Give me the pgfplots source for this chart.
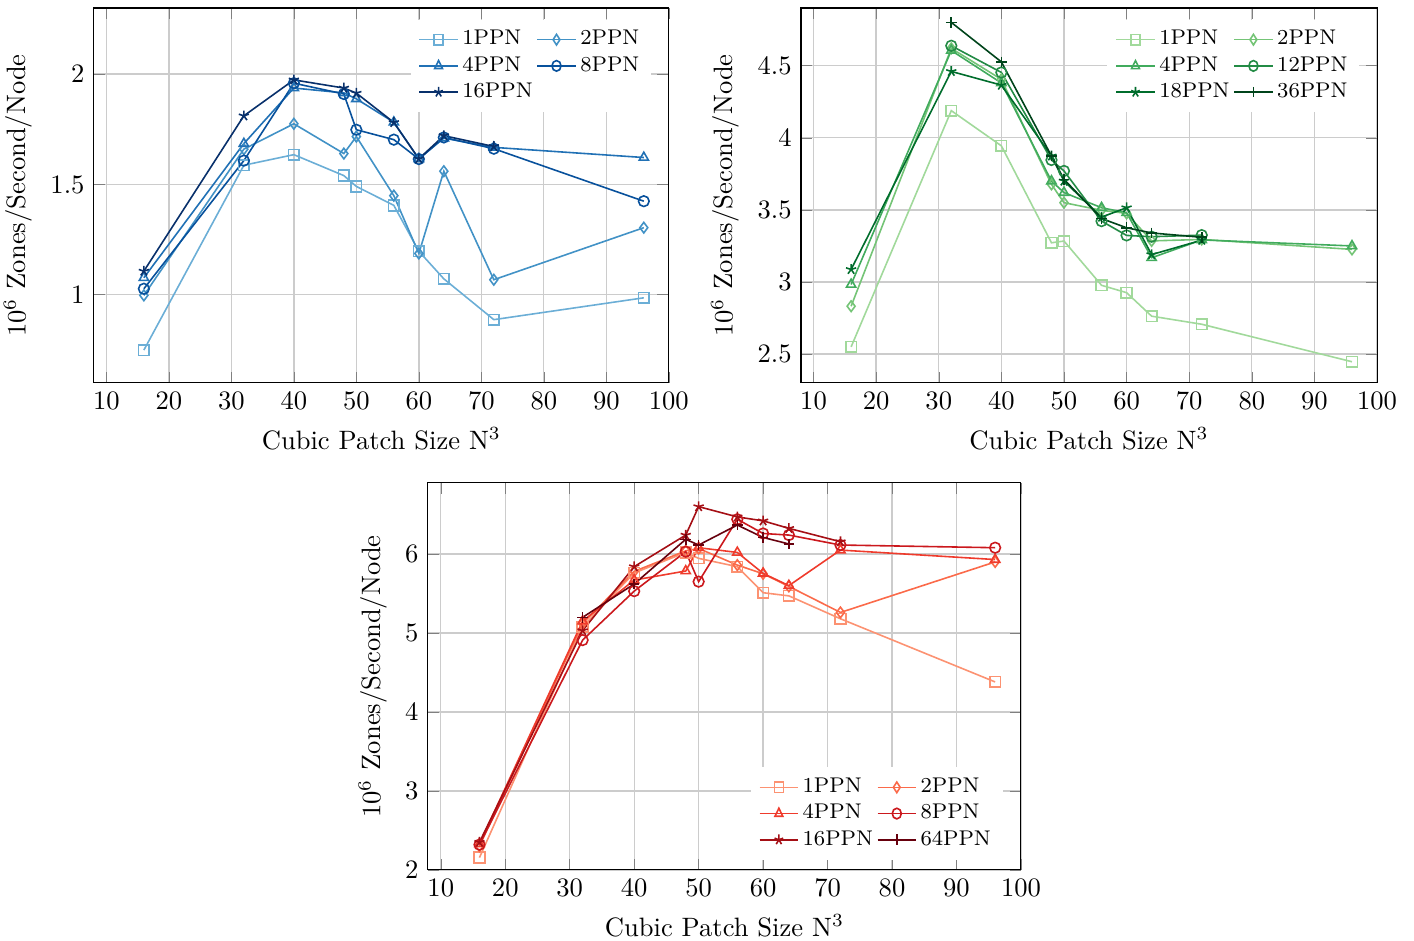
\documentclass[border=0pt]{standalone}
\usepackage{pgfplots}
\pgfplotsset{compat=1.18}
\definecolor{b1}{RGB}{107,174,214}
\definecolor{b2}{RGB}{66,146,198}
\definecolor{b3}{RGB}{33,113,181}
\definecolor{b4}{RGB}{8,81,156}
\definecolor{b5}{RGB}{8,48,107}
\definecolor{g1}{RGB}{161,217,155}
\definecolor{g2}{RGB}{116,196,118}
\definecolor{g3}{RGB}{65,171,93}
\definecolor{g4}{RGB}{35,139,69}
\definecolor{g5}{RGB}{0,109,44}
\definecolor{g6}{RGB}{0,68,27}
\definecolor{r1}{RGB}{252,146,114}
\definecolor{r2}{RGB}{251,106,74}
\definecolor{r3}{RGB}{239,59,44}
\definecolor{r4}{RGB}{203,24,29}
\definecolor{r5}{RGB}{165,15,21}
\definecolor{r6}{RGB}{103,0,13}
\pgfplotsset{
  myax/.style={
    scale only axis,
    xmin=8, xmax=100,
    xtick={10,20,...,100},
    grid=major,
    major grid style={gray!40, line width=0.5pt},
    xlabel={Cubic Patch Size N$^3$},
    ylabel={$10^6$ Zones/Second/Node},
    legend columns=2,
    legend cell align=left,
    legend style={draw=none, fill=white, font=\footnotesize, row sep=-1.1pt,
      nodes={inner xsep=1.4pt},
      /tikz/every even column/.append style={column sep=0pt},
      /tikz/every odd column/.append style={column sep=0pt}},
    legend image post style={xscale=0.85},
    every axis plot/.append style={line width=0.6pt, mark options={solid}},
  }
}
\begin{document}
\begin{tikzpicture}
\path[use as bounding box] (0,0) rectangle (531.7pt,353.8pt);
% ---------- Blues ----------
\begin{axis}[myax, at={(35.3pt,209.8pt)}, anchor=south west,
  width=216.2pt, height=141.0pt,
  ymin=0.6, ymax=2.3, ytick={1,1.5,2},
  legend style={at={(0.97,0.97)}, anchor=north east}]
\addplot[b1, mark=square] coordinates {(16,0.749)(32,1.587)(40,1.635)(48,1.540)(50,1.491)(56,1.405)(60,1.197)(64,1.072)(72,0.887)(96,0.986)};
\addlegendentry{1PPN}
\addplot[b2, mark=diamond] coordinates {(16,0.997)(32,1.660)(40,1.775)(48,1.640)(50,1.717)(56,1.449)(60,1.187)(64,1.560)(72,1.068)(96,1.304)};
\addlegendentry{2PPN}
\addplot[b3, mark=triangle] coordinates {(16,1.077)(32,1.685)(40,1.937)(48,1.915)(50,1.888)(56,1.782)(60,1.616)(64,1.710)(72,1.668)(96,1.622)};
\addlegendentry{4PPN}
\addplot[b4, mark=o] coordinates {(16,1.027)(32,1.608)(40,1.959)(48,1.910)(50,1.748)(56,1.703)(60,1.615)(64,1.713)(72,1.662)(96,1.424)};
\addlegendentry{8PPN}
\addplot[b5, mark=star] coordinates {(16,1.107)(32,1.811)(40,1.974)(48,1.937)(50,1.914)(56,1.781)(60,1.616)(64,1.721)(72,1.672)};
\addlegendentry{16PPN}
\end{axis}
% ---------- Greens ----------
\begin{axis}[myax, at={(301.2pt,209.8pt)}, anchor=south west,
  width=216.6pt, height=141.0pt,
  ymin=2.3, ymax=4.9, ytick={2.5,3,3.5,4,4.5},
  legend style={at={(0.97,0.97)}, anchor=north east}]
\addplot[g1, mark=square] coordinates {(16,2.550)(32,4.188)(40,3.944)(48,3.272)(50,3.284)(56,2.977)(60,2.926)(64,2.763)(72,2.707)(96,2.447)};
\addlegendentry{1PPN}
\addplot[g2, mark=diamond] coordinates {(16,2.832)(32,4.620)(40,4.405)(48,3.677)(50,3.550)(56,3.497)(60,3.476)(64,3.285)(72,3.295)(96,3.226)};
\addlegendentry{2PPN}
\addplot[g3, mark=triangle] coordinates {(16,2.983)(32,4.605)(40,4.380)(48,3.700)(50,3.620)(56,3.515)(60,3.480)(64,3.168)(72,3.292)(96,3.250)};
\addlegendentry{4PPN}
\addplot[g4, mark=o] coordinates {(32,4.638)(40,4.453)(48,3.846)(50,3.770)(56,3.422)(60,3.323)(64,3.314)(72,3.325)};
\addlegendentry{12PPN}
\addplot[g5, mark=star] coordinates {(16,3.087)(32,4.460)(40,4.365)(48,3.874)(50,3.700)(56,3.450)(60,3.515)(64,3.190)(72,3.290)};
\addlegendentry{18PPN}
\addplot[g6, mark=+] coordinates {(32,4.800)(40,4.526)(48,3.874)(50,3.712)(56,3.440)(60,3.376)(64,3.340)(72,3.310)};
\addlegendentry{36PPN}
\end{axis}
% ---------- Reds ----------
\begin{axis}[myax, at={(160.9pt,26.7pt)}, anchor=south west,
  width=223.0pt, height=145.5pt,
  ymin=2, ymax=6.9, ytick={2,3,4,5,6},
  legend style={at={(0.97,0.025)}, anchor=south east}]
\addplot[r1, mark=square] coordinates {(16,2.156)(32,5.080)(40,5.760)(48,6.020)(50,5.945)(56,5.840)(60,5.510)(64,5.470)(72,5.180)(96,4.380)};
\addlegendentry{1PPN}
\addplot[r2, mark=diamond] coordinates {(16,2.300)(32,5.120)(40,5.780)(48,6.040)(50,6.070)(56,5.860)(60,5.750)(64,5.590)(72,5.260)(96,5.900)};
\addlegendentry{2PPN}
\addplot[r3, mark=triangle] coordinates {(16,2.330)(32,5.150)(40,5.670)(48,5.785)(50,6.080)(56,6.020)(60,5.755)(64,5.600)(72,6.050)(96,5.930)};
\addlegendentry{4PPN}
\addplot[r4, mark=o] coordinates {(16,2.320)(32,4.910)(40,5.530)(48,6.030)(50,5.650)(56,6.440)(60,6.260)(64,6.240)(72,6.114)(96,6.080)};
\addlegendentry{8PPN}
\addplot[r5, mark=star] coordinates {(16,2.350)(32,5.030)(40,5.840)(48,6.240)(50,6.600)(56,6.470)(60,6.420)(64,6.325)(72,6.156)};
\addlegendentry{16PPN}
\addplot[r6, mark=+] coordinates {(32,5.198)(40,5.620)(48,6.186)(50,6.114)(56,6.367)(60,6.210)(64,6.127)};
\addlegendentry{64PPN}
\end{axis}
\end{tikzpicture}
\end{document}
